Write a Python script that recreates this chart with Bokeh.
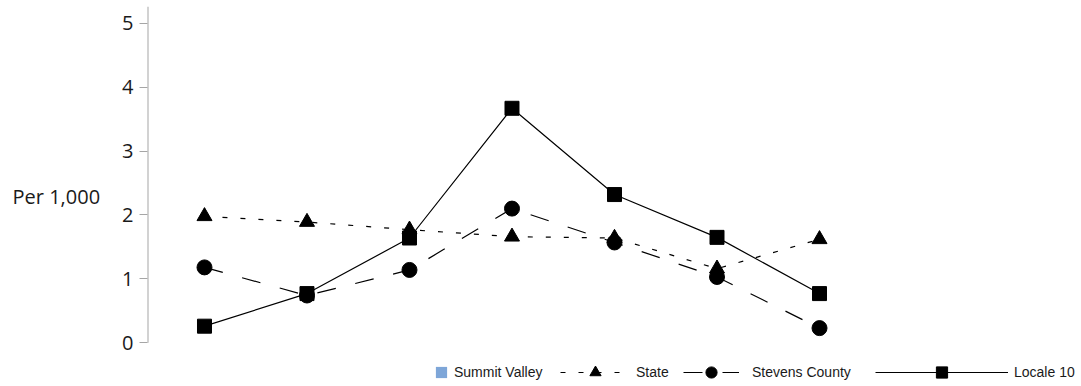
import math
from bokeh.plotting import figure
from bokeh.models import Range1d, Legend, LegendItem, FixedTicker
from bokeh.embed import file_html
from bokeh.resources import INLINE

# ---- data ----
categories = ["1", "2", "3", "4", "5", "6", "7"]
summit_valley = [None, None, None, None, None, None, None]
state = [1.98, 1.89, 1.77, 1.66, 1.64, 1.16, 1.62]
stevens_county = [1.18, 0.74, 1.14, 2.10, 1.57, 1.03, 0.23]
locale_10 = [0.26, 0.77, 1.64, 3.67, 2.32, 1.65, 0.77]
y_ticks = [0, 1, 2, 3, 4, 5]
y_label = "Per 1,000"
series_names = ["Summit Valley", "State", "Stevens County", "Locale 10"]

xs = list(range(len(categories)))
sv_vals = [math.nan if v is None else v for v in summit_valley]

W, H = 1081, 386
X0, X1 = -0.556, 8.556
Y0, Y1 = -0.684, 5.263
p = figure(width=W, height=H, output_backend="svg", toolbar_location=None,
           x_range=Range1d(X0, X1), y_range=Range1d(Y0, Y1),
           x_axis_location=None,
           min_border_left=147, min_border_right=0,
           min_border_top=6, min_border_bottom=0)

p.xgrid.visible = False
p.ygrid.visible = False
p.outline_line_color = None
p.background_fill_color = "white"
p.border_fill_color = "white"

ax = p.yaxis[0]
ax.ticker = FixedTicker(ticks=y_ticks)
ax.axis_line_color = None
ax.major_tick_line_color = "#a6a6a6"
ax.major_tick_in = 0
ax.major_tick_out = 8
ax.minor_tick_line_color = None
ax.major_label_standoff = 6
ax.major_label_text_font = "Open Sans"
ax.major_label_text_font_size = "20px"
ax.major_label_text_color = "#1a1a1a"
ax.axis_label = y_label
ax.axis_label_orientation = "horizontal"
ax.axis_label_standoff = 19
ax.axis_label_text_font = "Open Sans"
ax.axis_label_text_font_style = "normal"
ax.axis_label_text_font_size = "20px"
ax.axis_label_text_color = "#1a1a1a"
ax.axis_label_text_baseline = "bottom"

# y axis line, from 0 to the top of the value range
p.segment(x0=[X0], y0=[min(y_ticks)], x1=[X0], y1=[Y1],
          line_color="#a6a6a6", line_width=2)

sv = p.vbar(x=xs, top=sv_vals, width=0.5, fill_color="#7ea6d8", line_color=None)

st_l = p.line(xs, state, line_color="black", line_width=1.2, line_dash="5 13")
st_m = p.scatter(xs, state, marker="triangle", size=15, color="black")

sc_l = p.line(xs, stevens_county, line_color="black", line_width=1.2, line_dash="19 20")
sc_m = p.scatter(xs, stevens_county, marker="circle", size=15, color="black")

lo_l = p.line(xs, locale_10, line_color="black", line_width=1.2)
lo_m = p.scatter(xs, locale_10, marker="square", size=14, color="black")


def add_legend(label, renderers, x, y, gw, gh, standoff):
    lg = Legend(items=[LegendItem(label=label, renderers=renderers)],
                location=(x, y), orientation="horizontal",
                glyph_width=gw, glyph_height=gh, label_height=gh,
                label_standoff=standoff, padding=0, margin=0, spacing=0,
                border_line_color=None, background_fill_alpha=0,
                label_text_font="Liberation Sans",
                label_text_font_size="14px", label_text_color="#1a1a1a")
    p.add_layout(lg)


add_legend(series_names[0], [sv], 287, 6, 14, 14, 6)
add_legend(series_names[1], [st_l, st_m], 413, 0, 70, 28, 6)
add_legend(series_names[2], [sc_l, sc_m], 536, 0, 56, 28, 13)
add_legend(series_names[3], [lo_l, lo_m], 728, 0, 133, 28, 6)

open("out.html", "w").write(file_html(p, INLINE))
